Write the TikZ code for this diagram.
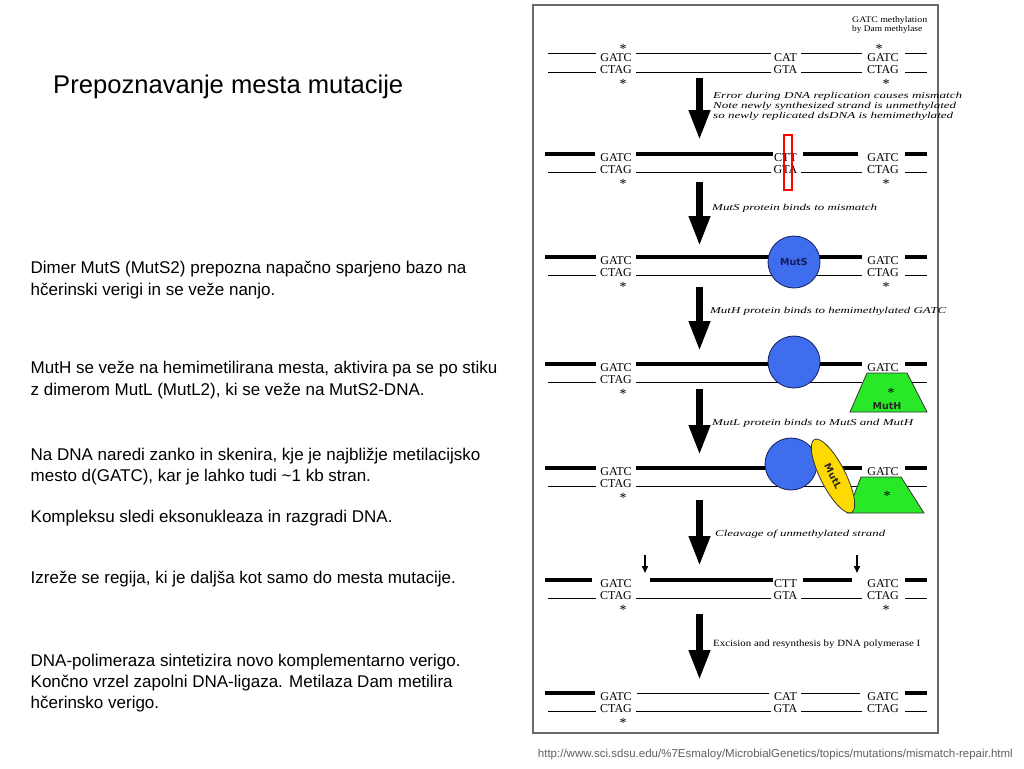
\documentclass[tikz,border=0pt]{standalone}
\usepackage{fontspec}
\setmainfont{Liberation Serif}
\newfontfamily\arialfont{Liberation Sans}
\newfontfamily\protfont{DejaVu Sans}
\usepackage{graphicx}
\usetikzlibrary{arrows.meta,shapes.geometric}

\definecolor{mutsblue}{RGB}{62,110,238}
\definecolor{mutsedge}{RGB}{20,28,90}
\definecolor{muthgreen}{RGB}{40,232,40}
\definecolor{mutlyellow}{RGB}{255,218,0}
\definecolor{urlgray}{RGB}{95,95,95}
\definecolor{framegray}{RGB}{105,105,105}

% squeeze a line of text to a given width (in pt), keeping its height
\newcommand{\fitto}[2]{\resizebox{#1pt}{\height}{#2}}

\begin{document}
\begin{tikzpicture}[x=1pt, y=-1pt,
    dna/.style={font=\fontsize{12}{12}\selectfont, inner sep=0pt, anchor=base},
    star/.style={font=\fontsize{14}{14}\selectfont, inner sep=0pt, anchor=base},
    oldstrand/.style={line width=1pt},
    newstrand/.style={line width=3.2pt},
    bigarrow/.style={line width=7pt, -{Triangle[length=30pt,width=20pt]}},
    nickarrow/.style={line width=1.5pt, -{Triangle[length=7pt,width=6pt]}},
    note/.style={font=\fontsize{9}{9}\selectfont\itshape, inner sep=0pt, anchor=base west},
    body/.style={font=\arialfont\fontsize{17}{20}\selectfont, inner sep=0pt, anchor=base west},
    muts/.style={circle, draw=mutsedge, line width=0.8pt, fill=mutsblue, minimum size=52pt, inner sep=0pt},
    muth/.style={draw=black!80, line width=0.8pt, fill=muthgreen},
    mutl/.style={ellipse, draw=black!80, line width=0.8pt, fill=mutlyellow, minimum width=82pt, minimum height=25pt, inner sep=0pt},
    protein/.style={font=\protfont\bfseries\fontsize{9.5}{9.5}\selectfont},
  ]
    \useasboundingbox (0,0) rectangle (1024,768);

    % Title and explanations on the left
    \node[body, font=\arialfont\fontsize{25.6}{30}\selectfont] (title) at (53,93) {Prepoznavanje mesta mutacije};
    \node[body] (t1a) at (30.5,273.5) {Dimer MutS (MutS2) prepozna napačno sparjeno bazo na};
    \node[body] (t1b) at (30.5,295) {hčerinski verigi in se veže nanjo.};
    \node[body] (t2a) at (30.5,373.5) {MutH se veže na hemimetilirana mesta, aktivira pa se po stiku};
    \node[body] (t2b) at (30.5,395) {z dimerom MutL (MutL2), ki se veže na MutS2-DNA.};
    \node[body] (t3a) at (30.5,460.5) {Na DNA naredi zanko in skenira, kje je najbližje metilacijsko};
    \node[body] (t3b) at (30.5,481.5) {mesto d(GATC), kar je lahko tudi \textasciitilde1 kb stran.};
    \node[body] (t4) at (30.5,522) {Kompleksu sledi eksonukleaza in razgradi DNA.};
    \node[body] (t5) at (30.5,583.5) {Izreže se regija, ki je daljša kot samo do mesta mutacije.};
    \node[body] (t6a) at (30.5,666) {DNA-polimeraza sintetizira novo komplementarno verigo.};
    \node[body] (t6b) at (30.5,687) {Končno vrzel zapolni DNA-ligaza. Metilaza Dam metilira};
    \node[body] (t6c) at (30.5,708) {hčerinsko verigo.};

    % Source
    \node[inner sep=0pt, anchor=base east, text=urlgray, font=\arialfont\fontsize{11.5}{12}\selectfont] (src) at (1013,757)
        {http://www.sci.sdsu.edu/\%7Esmaloy/MicrobialGenetics/topics/mutations/mismatch-repair.html};

    % Frame of the figure
    \draw[framegray, line width=1.5pt] (533,5) rectangle (938,733);

    % Strands: thin = parental, thick = daughter
    % row 1
    \draw[oldstrand] (548,54) -- (596,54) (636,54) -- (771,54) (801,54) -- (862,54) (905,54) -- (927,54);
    \draw[oldstrand] (548,72) -- (596,72) (636,72) -- (771,72) (801,72) -- (862,72) (905,72) -- (927,72);
    % row 2
    \draw[newstrand] (545,154) -- (595,154) (636,154) -- (773,154) (803,154) -- (858,154) (905,154) -- (927,154);
    \draw[oldstrand] (548,172) -- (596,172) (636,172) -- (771,172) (801,172) -- (862,172) (905,172) -- (927,172);
    % row 3
    \draw[newstrand] (545,257) -- (596,257) (636,257) -- (770,257) (818,257) -- (862,257) (905,257) -- (927,257);
    \draw[oldstrand] (548,275) -- (596,275) (636,275) -- (862,275) (905,275) -- (927,275);
    % row 4
    \draw[newstrand] (545,364) -- (596,364) (636,364) -- (770,364) (818,364) -- (862,364) (905,364) -- (927,364);
    \draw[oldstrand] (548,382) -- (596,382) (636,382) -- (862,382) (905,382) -- (927,382);
    % row 5
    \draw[newstrand] (545,468) -- (596,468) (636,468) -- (767,468) (817,468) -- (862,468) (905,468) -- (927,468);
    \draw[oldstrand] (548,486) -- (596,486) (636,486) -- (862,486) (905,486) -- (927,486);
    % row 6
    \draw[newstrand] (545,580) -- (592,580) (650,580) -- (773,580) (803,580) -- (852,580) (905,580) -- (927,580);
    \draw[oldstrand] (548,598) -- (596,598) (636,598) -- (771,598) (801,598) -- (862,598) (905,598) -- (927,598);
    % row 7
    \draw[newstrand] (545,693) -- (595,693) (905,693) -- (927,693);
    \draw[oldstrand] (637,693) -- (769,693) (801,693) -- (860,693);
    \draw[oldstrand] (548,711) -- (596,711) (636,711) -- (771,711) (801,711) -- (862,711) (905,711) -- (927,711);

    % GATC sites
    \foreach \r/\y in {1/57,2/157,3/260,4/367,5/471,6/583,7/696}{
        \node[dna] (gl\r) at (616,\y+4) {GATC};
        \node[dna] (cl\r) at (616,\y+16) {CTAG};
        \node[star] (sl\r) at (623,\y+31.4) {*};
        \node[dna] (gr\r) at (883,\y+4) {GATC};
    }
    \foreach \r/\y in {1/57,2/157,3/260,6/583,7/696}
        \node[dna] (cr\r) at (883,\y+16) {CTAG};
    \foreach \r/\y in {1/57,2/157,3/260,6/583}
        \node[star] (sr\r) at (886,\y+31.4) {*};
    \node[star] (tl1) at (623,53.5) {*};
    \node[star] (tr1) at (879,53.5) {*};

    % Mismatch site
    \node[dna] (m1) at (785.5,61) {CAT};
    \node[dna] (n1) at (785.5,73) {GTA};
    \node[dna] (m2) at (785.5,161) {CTT};
    \node[dna] (n2) at (785.5,173) {GTA};
    \node[dna] (m6) at (785.5,587) {CTT};
    \node[dna] (n6) at (785.5,599) {GTA};
    \node[dna] (m7) at (785.5,700) {CAT};
    \node[dna] (n7) at (785.5,712) {GTA};
    \draw[red, line width=1.8pt] (784,135) rectangle (792,190);

    % Proteins
    \node[muts, protein, text=mutsedge] (muts3) at (794,262) {MutS};
    \node[muts] (muts4) at (794,362) {};
    \node[muts] (muts5) at (791,464) {};

    \draw[muth] (850,412) -- (867,373) -- (907,373) -- (927,412) -- cycle;
    \node[star] (sh4) at (891,397.4) {*};
    \node[protein, text=black!85] (muth4) at (887,406) {MutH};

    \draw[muth] (847,513) -- (861,477) -- (901,477) -- (924,513) -- cycle;
    \node[star] (sh5) at (887,500.4) {*};
    \node[mutl, protein, text=black!85, rotate=-63] (mutl5) at (833,476) {MutL};

    % Nicks made by MutH
    \coordinate (nl) at (645,555);
    \coordinate (nle) at (645,573);
    \coordinate (nr) at (857,555);
    \coordinate (nre) at (857,573);
    \draw[nickarrow] (nl) -- (nle);
    \draw[nickarrow] (nr) -- (nre);

    % Steps
    \foreach \a/\b [count=\i] in {78/140,182/246,287/351,389/455,500/566,614/680}{
        \coordinate (top\i) at (699.5,\a);
        \coordinate (tip\i) at (699.5,\b);
        \draw[bigarrow] (top\i) -- (tip\i);
    }

    \node[note, font=\fontsize{8.5}{8.5}\selectfont] (dam1) at (852,23) {\fitto{75}{GATC methylation}};
    \node[note, font=\fontsize{8.5}{8.5}\selectfont] (dam2) at (852,32) {\fitto{70}{by Dam methylase}};
    \node[note] (s1a) at (713,98.5) {\fitto{249}{Error during DNA replication causes mismatch}};
    \node[note] (s1b) at (713,108.5) {\fitto{243}{Note newly synthesized strand is unmethylated}};
    \node[note] (s1c) at (713,118.5) {\fitto{240}{so newly replicated dsDNA is hemimethylated}};
    \node[note] (s2) at (712,210.5) {\fitto{165}{MutS protein binds to mismatch}};
    \node[note] (s3) at (710,313.5) {\fitto{236}{MutH protein binds to hemimethylated GATC}};
    \node[note] (s4) at (712,425.5) {\fitto{201}{MutL protein binds to MutS and MutH}};
    \node[note] (s5) at (715,536.5) {\fitto{170}{Cleavage of unmethylated strand}};
    \node[note, font=\fontsize{9.5}{9.5}\selectfont] (s6) at (713,646.5) {\fitto{207}{Excision and resynthesis by DNA polymerase I}};
\end{tikzpicture}
\end{document}
